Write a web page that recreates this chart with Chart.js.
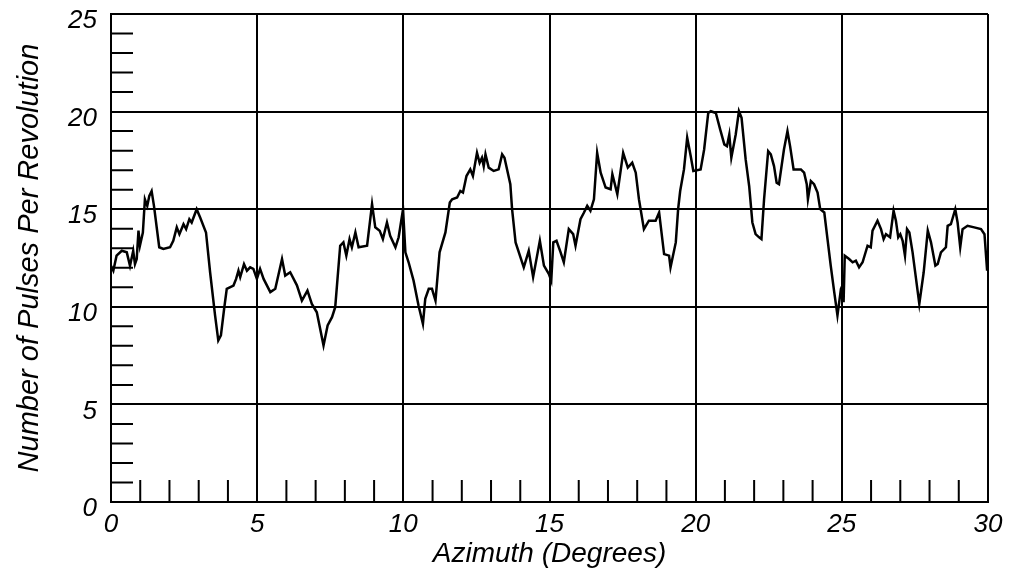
<!DOCTYPE html>
<html>
<head>
<meta charset="utf-8">
<script src="https://cdn.jsdelivr.net/npm/chart.js@4"></script>
<style>
  body { margin: 0; background: #fff; }
</style>
</head>
<body>
<canvas id="chart" width="1013" height="578"></canvas>
<script>
// Azimuth (deg) and pulses per revolution
const azimuth = [
  0.0, 0.08, 0.19, 0.37, 0.54, 0.65, 0.76, 0.82, 0.88, 0.94, 0.99, 1.09, 1.16, 1.24, 1.31, 1.39, 1.47,
  1.65, 1.79, 2.02, 2.13, 2.25, 2.34, 2.48, 2.57, 2.68, 2.76, 2.93, 3.05, 3.25, 3.39, 3.56, 3.67,
  3.76, 3.87, 3.96, 4.19, 4.28, 4.36, 4.42, 4.55, 4.65, 4.76, 4.87, 4.99, 5.10, 5.22, 5.45, 5.62,
  5.85, 5.96, 6.13, 6.36, 6.53, 6.72, 6.87, 7.04, 7.27, 7.41, 7.56, 7.67, 7.84, 7.95, 8.05, 8.16,
  8.24, 8.36, 8.47, 8.76, 8.93, 9.04, 9.19, 9.30, 9.44, 9.55, 9.73, 9.84, 9.99, 10.07, 10.18, 10.35,
  10.52, 10.67, 10.75, 10.87, 10.98, 11.10, 11.24, 11.44, 11.59, 11.67, 11.84, 11.95, 12.04, 12.16,
  12.29, 12.38, 12.52, 12.61, 12.69, 12.75, 12.81, 12.92, 13.09, 13.26, 13.38, 13.46, 13.66, 13.72,
  13.84, 14.12, 14.29, 14.44, 14.67, 14.81, 14.98, 15.06, 15.13, 15.24, 15.38, 15.49, 15.66, 15.81,
  15.89, 16.06, 16.18, 16.29, 16.40, 16.52, 16.63, 16.75, 16.92, 17.09, 17.15, 17.32, 17.52, 17.68,
  17.83, 17.95, 18.06, 18.23, 18.40, 18.63, 18.75, 18.92, 19.09, 19.14, 19.32, 19.40, 19.47, 19.60,
  19.71, 19.83, 19.92, 20.17, 20.29, 20.43, 20.52, 20.69, 20.84, 20.98, 21.07, 21.15, 21.22, 21.37,
  21.48, 21.57, 21.71, 21.83, 21.94, 22.05, 22.17, 22.25, 22.34, 22.48, 22.57, 22.68, 22.77, 22.85,
  23.02, 23.14, 23.23, 23.35, 23.60, 23.71, 23.80, 23.84, 23.94, 24.05, 24.17, 24.26, 24.40, 24.51,
  24.62, 24.74, 24.85, 24.97, 25.02, 25.06, 25.10, 25.25, 25.37, 25.48, 25.59, 25.71, 25.88, 25.99,
  26.05, 26.22, 26.34, 26.43, 26.51, 26.65, 26.77, 26.85, 26.93, 27.00, 27.08, 27.16, 27.23, 27.31,
  27.42, 27.65, 27.80, 27.94, 28.05, 28.20, 28.28, 28.39, 28.56, 28.62, 28.73, 28.88, 28.96, 29.05,
  29.13, 29.30, 29.53, 29.76, 29.88, 29.97, 30.0
];
const pulses = [
  12.1, 11.85, 12.62, 12.87, 12.79, 12.10, 12.87, 12.19, 12.45, 13.90, 13.13, 13.80, 15.50, 15.17, 15.68, 15.93, 15.17,
  13.05, 12.96, 13.05, 13.38, 14.07, 13.72, 14.23, 13.98, 14.49, 14.32, 15.00, 14.57, 13.81, 11.77, 9.56, 8.28,
  8.54, 9.90, 10.92, 11.09, 11.43, 11.85, 11.52, 12.19, 11.85, 12.02, 11.94, 11.43, 11.94, 11.43, 10.75, 10.92,
  12.45, 11.60, 11.77, 11.10, 10.32, 10.83, 10.15, 9.72, 8.02, 9.04, 9.47, 9.98, 13.13, 13.30, 12.62, 13.47,
  13.05, 13.81, 13.05, 13.13, 15.26, 14.07, 13.90, 13.47, 14.32, 13.64, 13.05, 13.56, 15.00, 12.79, 12.28, 11.34,
  10.07, 9.13, 10.41, 10.92, 10.92, 10.32, 12.79, 13.81, 15.34, 15.51, 15.60, 15.93, 15.85, 16.70,
  17.04, 16.70, 17.89, 17.38, 17.64, 17.20, 17.81, 17.13, 16.96, 17.04, 17.81, 17.64, 16.28, 15.00,
  13.30, 12.02, 12.87, 11.52, 13.38, 12.11, 11.68, 11.34, 13.30, 13.38, 12.79, 12.28, 13.98, 13.72,
  13.13, 14.49, 14.83, 15.17, 14.92, 15.51, 17.89, 16.87, 16.11, 16.02, 16.79, 15.77, 17.89, 17.13,
  17.38, 16.87, 15.51, 13.98, 14.41, 14.41, 14.83, 12.70, 12.62, 12.02, 13.30, 15.00, 15.93, 17.04,
  18.66, 17.72, 16.96, 17.04, 18.06, 19.93, 20.02, 19.93, 19.08, 18.32, 18.23, 18.83, 17.64, 18.83,
  20.02, 19.68, 17.55, 16.19, 14.32, 13.72, 13.56, 13.47, 15.51, 17.97, 17.81, 17.21, 16.36, 16.28,
  18.06, 19.00, 18.23, 17.04, 17.04, 16.87, 16.28, 15.51, 16.44, 16.28, 15.85, 15.00, 14.83, 13.47,
  12.11, 10.75, 9.56, 10.92, 11.09, 10.24, 12.62, 12.45, 12.28, 12.36, 12.02, 12.28, 13.13, 13.05,
  13.90, 14.41, 13.98, 13.47, 13.72, 13.56, 14.92, 14.41, 13.56, 13.72, 13.38, 12.62, 13.98, 13.81,
  12.79, 10.15, 11.77, 13.90, 13.30, 12.11, 12.19, 12.79, 13.05, 14.15, 14.23, 15.00, 14.32, 13.05,
  13.98, 14.15, 14.07, 13.98, 13.72, 11.85, 12.28
];

const xTitle = "Azimuth (Degrees)";
const yTitle = "Number of Pulses Per Revolution";

const points = azimuth.map((a, i) => ({ x: a, y: pulses[i] }));

// small inward ticks every 1 unit on the left and bottom axes
const minorTicks = {
  id: "minorTicks",
  afterDatasetsDraw(chart) {
    const { ctx, chartArea, scales } = chart;
    const len = 22;
    ctx.save();
    ctx.strokeStyle = "#000";
    ctx.lineWidth = 2;
    ctx.beginPath();
    for (let v = 1; v < 30; v++) {
      if (v % 5 === 0) continue;
      const px = scales.x.getPixelForValue(v);
      ctx.moveTo(px, chartArea.bottom);
      ctx.lineTo(px, chartArea.bottom - len);
    }
    for (let v = 1; v < 25; v++) {
      if (v % 5 === 0) continue;
      const py = scales.y.getPixelForValue(v);
      ctx.moveTo(chartArea.left, py);
      ctx.lineTo(chartArea.left + len, py);
    }
    ctx.stroke();
    ctx.restore();
  },
};

const tickFont = { family: "Liberation Sans", size: 26, style: "italic" };
const titleFont = { family: "Liberation Sans", size: 28, style: "italic" };

new Chart(document.getElementById("chart"), {
  type: "line",
  plugins: [minorTicks],
  data: {
    datasets: [
      {
        data: points,
        borderColor: "#000",
        borderWidth: 2.5,
        pointRadius: 0,
        tension: 0,
        fill: false,
      },
    ],
  },
  options: {
    responsive: false,
    devicePixelRatio: 1,
    animation: false,
    layout: { padding: { top: 0, right: 25, left: 0, bottom: 0 } },
    plugins: { legend: { display: false }, tooltip: { enabled: false } },
    scales: {
      x: {
        type: "linear",
        min: 0,
        max: 30,
        afterFit: (s) => { s.height = 76; },
        ticks: { stepSize: 5, color: "#000", font: tickFont, padding: 7, maxRotation: 0 },
        grid: { color: "#000", lineWidth: 2, drawTicks: false },
        border: { color: "#000", width: 2 },
        title: { display: true, text: xTitle, color: "#000", font: titleFont, padding: { top: 0, bottom: 7 } },
      },
      y: {
        min: 0,
        max: 25,
        afterFit: (s) => { s.width = 111; s.paddingTop = 14; s.paddingBottom = 0; },
        ticks: { stepSize: 5, color: "#000", font: tickFont, padding: 14, labelOffset: 7 },
        grid: { color: "#000", lineWidth: 2, drawTicks: false },
        border: { color: "#000", width: 2 },
        title: { display: true, text: yTitle, color: "#000", font: { ...titleFont, size: 29 }, padding: { top: 13, bottom: 0 } },
      },
    },
  },
});
</script>
</body>
</html>
